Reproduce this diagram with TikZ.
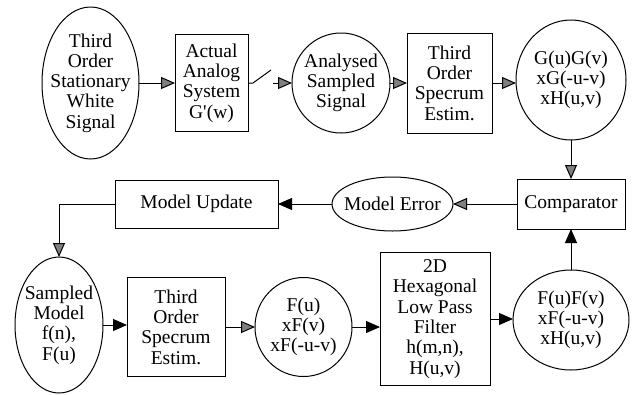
\documentclass[tikz,border=0pt]{standalone}
\usepackage{fontspec}
\setmainfont{Liberation Serif}
\usetikzlibrary{shapes.geometric,arrows.meta}
\begin{document}
\begin{tikzpicture}[x=1pt,y=-1pt,
  every node/.style={inner sep=0pt, outer sep=0pt},
  box/.style={draw, line width=1pt, rectangle},
  oval/.style={draw, line width=1pt, ellipse},
  txt/.style={align=center, font=\fontsize{19.5}{20.3}\selectfont},
  link/.style={line width=1pt},
  gtip/.style={-{Triangle[length=14pt,width=12pt,fill=black!50]}},
  btip/.style={-{Triangle[length=14pt,width=12pt]}},
]
\useasboundingbox (0,0) rectangle (635,394);

% ---- top row: signal path of the real system ----
\node[oval, minimum width=97pt, minimum height=152pt] (e1) at (90.5,83) {};
\node[txt] (e1t) at (e1) {Third\\Order\\Stationary\\White\\Signal};

\node[box, txt, minimum width=73pt, minimum height=97pt] (b2) at (211.5,83)
  {Actual\\Analog\\System\\G\textquotesingle(w)};

\node[oval, minimum width=98pt, minimum height=100pt] (e3) at (341,83) {};
\node[txt] (e3t) at (e3) {Analysed\\Sampled\\Signal};

\node[box, txt, minimum width=85pt, minimum height=100pt] (b4) at (449.5,83)
  {Third\\Order\\Specrum\\Estim.};

\node[oval, minimum width=110pt, minimum height=120pt] (e5) at (571,80) {};
\node[txt] (e5t) at (e5) {G(u)G(v)\\xG(-u-v)\\xH(u,v)};

% ---- middle row: comparison and update ----
\node[box, txt, minimum width=108pt, minimum height=50pt] (cmp) at (571,204) {Comparator};
\node[oval, minimum width=121pt, minimum height=54pt] (merr) at (392.5,204) {};
\node[txt] (merrt) at (merr) {Model Error};
\node[box, txt, minimum width=163pt, minimum height=48pt] (mupd) at (196.5,204) {Model Update};

% ---- bottom row: model path ----
\node[oval, minimum width=88pt, minimum height=136pt] (e6) at (59,325) {};
\node[txt] (e6t) at (e6) {Sampled\\Model\\f(n),\\F(u)};

\node[box, txt, minimum width=98pt, minimum height=99pt] (b7) at (176,327)
  {Third\\Order\\Specrum\\Estim.};

\node[oval, minimum width=97pt, minimum height=99pt] (e8) at (303.5,327) {};
\node[txt] (e8t) at (e8) {F(u)\\xF(v)\\xF(-u-v)};

\node[box, txt, minimum width=110pt, minimum height=133pt] (b9) at (435,319)
  {2D\\Hexagonal\\Low Pass\\Filter\\h(m,n),\\H(u,v)};

\node[oval, minimum width=116pt, minimum height=100pt] (e10) at (571,320) {};
\node[txt] (e10t) at (e10) {F(u)F(v)\\xF(-u-v)\\xH(u,v)};

% ---- sampling switch ----
\coordinate (sw1) at (253,83);
\coordinate (sw2) at (271,70);
\coordinate (sw3) at (273,83);

% ---- connectors ----
\draw[link,gtip] (e1.east) -- (e1.east -| b2.west);
\draw[link] (b2.east) -- (sw1) -- (sw2);
\draw[link,gtip] (sw3) -- (e3.west);
\draw[link,gtip] (e3.east) -- (e3.east -| b4.west);
\draw[link,gtip] (b4.east) -- (b4.east -| e5.west);
\draw[link,gtip] (e5.south) -- (e5.south |- cmp.north);
\draw[link,gtip] (cmp.west) -- (merr.east);
\draw[link,btip] (merr.west) -- (mupd.east);
\draw[link,gtip] (mupd.west) -| (e6.north);
\draw[link,btip] (e6.east) -- (e6.east -| b7.west);
\draw[link,gtip] (b7.east) -- (b7.east -| e8.west);
\draw[link,btip] (e8.east) -- (e8.east -| b9.west);
\draw[link,btip] (b9.east) -- (b9.east -| e10.west);
\draw[link,btip] (e10.north) -- (e10.north |- cmp.south);
\end{tikzpicture}
\end{document}
